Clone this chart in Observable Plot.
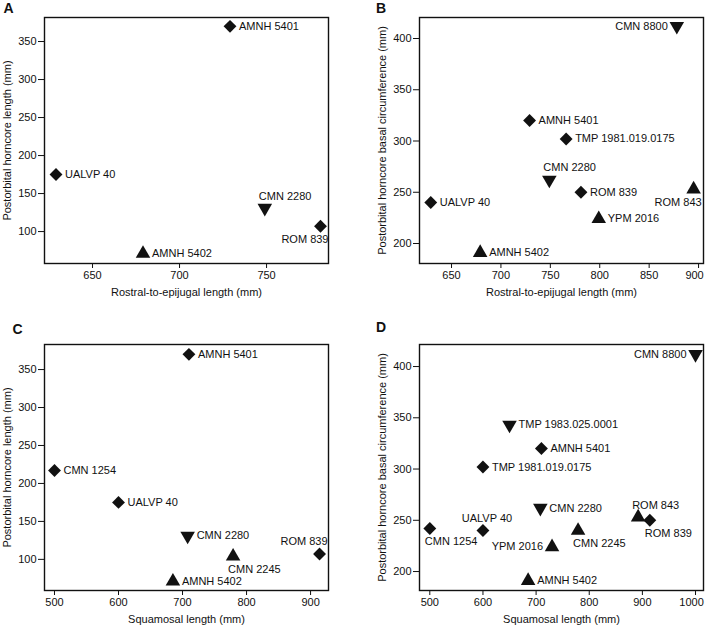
<!DOCTYPE html>
<html>
<head>
<meta charset="utf-8">
<script src="https://cdn.jsdelivr.net/npm/d3@7"></script>
<script src="https://cdn.jsdelivr.net/npm/@observablehq/plot@0.6"></script>
<style>
  html, body { margin: 0; padding: 0; background: #fff; }
  #wrap { position: relative; width: 706px; height: 625px; overflow: hidden; background: #fff; }
  #wrap > div { position: absolute; }
  svg { display: block; overflow: visible !important; }
</style>
</head>
<body>
<div id="wrap">
  <div id="pA" style="left:0px;top:0px"></div>
  <div id="pB" style="left:353px;top:0px"></div>
  <div id="pC" style="left:0px;top:310px"></div>
  <div id="pD" style="left:353px;top:310px"></div>
</div>
<script>
// ---- Data ----
const specimens = ["AMNH 5401", "AMNH 5402", "CMN 1254", "CMN 2245", "CMN 2280", "CMN 8800",
                   "ROM 839", "ROM 843", "TMP 1981.019.0175", "TMP 1983.025.0001", "UALVP 40", "YPM 2016"];
const shapes = ["diamond", "up", "diamond", "up", "down", "down",
                "diamond", "up", "diamond", "down", "diamond", "up"];
// Rostral-to-epijugal length (mm)
const rostralEpijugal = [729, 679, null, null, 749, 878, 781, 895, 766, null, 629, 799];
// Squamosal length (mm)
const squamosal = [710, 685, 500, 779, 708, 1000, 914, 892, 600, 650, 600, 730];
// Postorbital horncore length (mm)
const pohLength = [370, 71, 217, 104, 131, null, 107, null, null, null, 175, null];
// Postorbital horncore basal circumference (mm)
const pohCircumference = [320, 191, 242, 240, 262, 412, 250, 253, 302, 343, 240, 224];

const ticksA_x = [650, 700, 750], ticksA_y = [100, 150, 200, 250, 300, 350];
const ticksB_x = [650, 700, 750, 800, 850, 900], ticksB_y = [200, 250, 300, 350, 400];
const ticksC_x = [500, 600, 700, 800, 900], ticksC_y = [100, 150, 200, 250, 300, 350];
const ticksD_x = [500, 600, 700, 800, 900, 1000], ticksD_y = [200, 250, 300, 350, 400];

// label placement (annotation layout)
const placeA = {"AMNH 5401": "right", "UALVP 40": "right", "CMN 2280": "aboveStart", "ROM 839": "belowEnd", "AMNH 5402": "right"};
const placeB = {"CMN 8800": "left", "AMNH 5401": "right", "TMP 1981.019.0175": "right", "CMN 2280": "aboveStart",
                "ROM 839": "right", "ROM 843": "belowEnd", "UALVP 40": "right", "YPM 2016": "right", "AMNH 5402": "right"};
const placeC = {"AMNH 5401": "right", "CMN 1254": "right", "UALVP 40": "right", "CMN 2280": "right",
                "CMN 2245": "belowStart", "ROM 839": "aboveEnd", "AMNH 5402": "right"};
const placeD = {"CMN 8800": "left", "TMP 1983.025.0001": "right", "AMNH 5401": "right", "TMP 1981.019.0175": "right",
                "CMN 2280": "right", "UALVP 40": "aboveMid", "CMN 1254": "belowStart", "YPM 2016": "left",
                "CMN 2245": "belowStart", "ROM 843": "aboveStart", "ROM 839": "belowStart", "AMNH 5402": "right"};

const styles = {
  right: {textAnchor: "start", dx: 9, dy: 0},
  left: {textAnchor: "end", dx: -9, dy: 0},
  aboveStart: {textAnchor: "start", dx: -6, dy: -12},
  aboveEnd: {textAnchor: "end", dx: 8, dy: -13},
  aboveMid: {textAnchor: "middle", dx: 4, dy: -12},
  belowStart: {textAnchor: "start", dx: -5, dy: 13},
  belowEnd: {textAnchor: "end", dx: 8, dy: 13}
};

function rows(xs, ys) {
  return specimens.map((name, i) => ({name, shape: shapes[i], x: xs[i], y: ys[i]}))
    .filter(d => d.x != null && d.y != null);
}

function panel(el, cfg) {
  const data = rows(cfg.xs, cfg.ys);
  const ink = "#111";
  const textMarks = Object.keys(styles).map(k => {
    const sub = data.filter(d => cfg.place[d.name] === k);
    return Plot.text(sub, {x: "x", y: "y", text: "name", fill: ink, fontSize: 11, lineAnchor: "middle", ...styles[k]});
  });
  const lastTick = cfg.xTicks[cfg.xTicks.length - 1];
  const xAxisMarks = cfg.shiftLast
    ? [
        Plot.axisX({ticks: cfg.xTicks, tickSize: 5, tickPadding: 3, label: null, stroke: ink, fontSize: 11,
                    tickFormat: d => d === lastTick ? "" : String(d)}),
        Plot.axisX({ticks: [lastTick], tickSize: 0, tickPadding: 8, label: null, fontSize: 11, dx: -4,
                    tickFormat: d => String(d)})
      ]
    : [Plot.axisX({ticks: cfg.xTicks, tickSize: 5, tickPadding: 3, label: null, stroke: ink, fontSize: 11})];
  const chart = Plot.plot({
    width: 353,
    height: cfg.height,
    marginLeft: cfg.ml, marginRight: cfg.mr, marginTop: cfg.mt, marginBottom: cfg.mb,
    style: {fontFamily: "'Liberation Sans', Arial, Helvetica, sans-serif", fontSize: "11px", color: ink, background: "white", overflow: "visible"},
    x: {domain: cfg.xDomain},
    y: {domain: cfg.yDomain},
    marks: [
      ...xAxisMarks,
      Plot.axisY({ticks: cfg.yTicks, tickSize: 6, tickPadding: 2, label: null, stroke: ink, fontSize: 11}),
      Plot.frame({stroke: ink, strokeWidth: 1.4}),
      Plot.text([cfg.xLabel], {frameAnchor: "bottom", textAnchor: "middle", lineAnchor: "middle", dy: 29, fontSize: 11, fill: ink}),
      Plot.text([cfg.yLabel], {frameAnchor: "left", textAnchor: "middle", lineAnchor: "middle", dx: -37, rotate: -90, fontSize: 11, fill: ink}),
      Plot.text([cfg.letter], {frameAnchor: "top-left", textAnchor: "middle", lineAnchor: "middle", dx: cfg.ldx, dy: cfg.ldy, fontSize: 14, fontWeight: "bold", fill: ink}),
      Plot.dot(data.filter(d => d.shape === "diamond"), {x: "x", y: "y", symbol: "diamond2", r: 5.8, fill: ink, stroke: "none"}),
      Plot.dot(data.filter(d => d.shape === "up"), {x: "x", y: "y", symbol: "triangle", r: 5.4, fill: ink, stroke: "none"}),
      Plot.dot(data.filter(d => d.shape === "down"), {x: "x", y: "y", symbol: "triangle", rotate: 180, r: 5.4, fill: ink, stroke: "none"}),
      ...textMarks
    ]
  });
  document.getElementById(el).appendChild(chart);
}

panel("pA", {letter: "A", ldx: -36, ldy: -8.5, height: 305, ml: 44, mr: 25, mt: 17, mb: 42,
  xs: rostralEpijugal, ys: pohLength, xDomain: [622.4, 785.6], yDomain: [58, 381.6],
  xTicks: ticksA_x, yTicks: ticksA_y, place: placeA, shiftLast: false,
  xLabel: "Rostral-to-epijugal length (mm)", yLabel: "Postorbital horncore length (mm)"});
panel("pB", {letter: "B", ldx: -38.5, ldy: -8.5, height: 305, ml: 66, mr: 3, mt: 17, mb: 42,
  xs: rostralEpijugal, ys: pohCircumference, xDomain: [617.6, 905], yDomain: [180.5, 420.5],
  xTicks: ticksB_x, yTicks: ticksB_y, place: placeB, shiftLast: true,
  xLabel: "Rostral-to-epijugal length (mm)", yLabel: "Postorbital horncore basal circumference (mm)"});
panel("pC", {letter: "C", ldx: -27, ldy: -15, height: 315, ml: 44, mr: 25, mt: 34, mb: 35,
  xs: squamosal, ys: pohLength, xDomain: [484.4, 928], yDomain: [59, 383],
  xTicks: ticksC_x, yTicks: ticksC_y, place: placeC, shiftLast: false,
  xLabel: "Squamosal length (mm)", yLabel: "Postorbital horncore length (mm)"});
panel("pD", {letter: "D", ldx: -38.5, ldy: -16.5, height: 315, ml: 66, mr: 3, mt: 34, mb: 35,
  xs: squamosal, ys: pohCircumference, xDomain: [480.6, 1015], yDomain: [181.5, 421.5],
  xTicks: ticksD_x, yTicks: ticksD_y, place: placeD, shiftLast: true,
  xLabel: "Squamosal length (mm)", yLabel: "Postorbital horncore basal circumference (mm)"});
</script>
</body>
</html>
